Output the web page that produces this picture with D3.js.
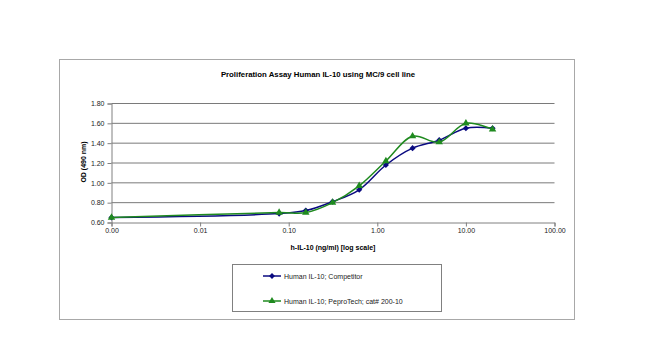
<!DOCTYPE html>
<html>
<head>
<meta charset="utf-8">
<script src="https://cdn.jsdelivr.net/npm/d3@7"></script>
<style>
  body { margin: 0; background: #fff; }
  svg { font-family: "Liberation Sans", Arial, sans-serif; }
</style>
</head>
<body>
<div class="chart"></div>
<script>
// concentrations (ng/ml) and OD readings
const conc = [0.001, 0.078, 0.156, 0.3125, 0.625, 1.25, 2.5, 5, 10, 20];
const competitor = [0.65, 0.69, 0.72, 0.81, 0.93, 1.18, 1.35, 1.43, 1.55, 1.55];
const peprotech = [0.65, 0.70, 0.70, 0.80, 0.97, 1.22, 1.47, 1.41, 1.60, 1.54];
const xTicks = [0.001, 0.01, 0.1, 1, 10, 100];
const yTicks = [0.6, 0.8, 1.0, 1.2, 1.4, 1.6, 1.8];
const seriesNames = ['Human IL-10; Competitor', 'Human IL-10; PeproTech; cat# 200-10'];

const width = 650;
const height = 351;

const svg = d3.select('.chart').append('svg')
    .attr('width', width)
    .attr('height', height);

// outer chart frame
svg.append('rect')
    .attr('x', 59.5).attr('y', 59.5)
    .attr('width', 515).attr('height', 260)
    .attr('fill', 'none')
    .attr('stroke', '#a8a8a8');

const xScale = d3.scaleLog().domain([0.001, 100]).range([111.5, 554.5]);
const yScale = d3.scaleLinear().domain([0.6, 1.8]).range([222.5, 103.5]);

// title
svg.append('text')
    .attr('x', 318).attr('y', 77)
    .attr('text-anchor', 'middle')
    .attr('font-size', '7.8px').attr('font-weight', 'bold')
    .text('Proliferation Assay Human IL-10 using MC/9 cell line');

/* gridlines */
svg.append('g')
    .selectAll('line')
    .data(yTicks.slice(1))
    .enter().append('line')
    .attr('x1', xScale(0.001)).attr('x2', xScale(100))
    .attr('y1', d => yScale(d)).attr('y2', d => yScale(d))
    .attr('stroke', '#7a7a7a')
    .attr('stroke-width', 1);

/* y axis */
const yAxis = d3.axisLeft(yScale).tickValues(yTicks)
    .tickFormat(d3.format('.2f')).tickSize(4).tickPadding(3);
svg.append('g')
    .attr('class', 'y-axis')
    .attr('transform', `translate(${xScale(0.001)},0)`)
    .call(yAxis)
    .call(g => g.select('.domain').attr('stroke', '#808080'))
    .call(g => g.selectAll('.tick line').attr('stroke', '#808080'))
    .call(g => g.selectAll('text').attr('font-size', '7px').attr('fill', '#222')
        .attr('font-family', '"Liberation Sans", Arial, sans-serif'));

/* x axis */
const xAxis = d3.axisBottom(xScale).tickValues(xTicks)
    .tickFormat(d3.format('.2f')).tickSize(4).tickPadding(2);
svg.append('g')
    .attr('class', 'x-axis')
    .attr('transform', `translate(0,${yScale(0.6)})`)
    .call(xAxis)
    .call(g => g.select('.domain').attr('stroke', '#808080'))
    .call(g => g.selectAll('.tick line').attr('stroke', '#808080'))
    .call(g => g.selectAll('text').attr('font-size', '7px').attr('fill', '#222')
        .attr('font-family', '"Liberation Sans", Arial, sans-serif'));

// axis titles
svg.append('text')
    .attr('x', 333).attr('y', 250)
    .attr('text-anchor', 'middle')
    .attr('font-size', '7px').attr('font-weight', 'bold')
    .text('h-IL-10 (ng/ml) [log scale]');
svg.append('text')
    .attr('transform', 'translate(86,162) rotate(-90)')
    .attr('text-anchor', 'middle')
    .attr('font-size', '7px').attr('font-weight', 'bold')
    .text('OD (490 nm)');

/* series */
const series = [
    { name: seriesNames[0], values: competitor, color: '#0a0a80', symbol: d3.symbolDiamond2 },
    { name: seriesNames[1], values: peprotech, color: '#1f8a1f', symbol: d3.symbolTriangle }
];

const line = d3.line()
    .x(d => xScale(d[0]))
    .y(d => yScale(d[1]))
    .curve(d3.curveCatmullRom.alpha(0.5));

series.forEach(s => {
    const pts = conc.map((c, i) => [c, s.values[i]]);
    svg.append('path')
        .datum(pts)
        .attr('fill', 'none')
        .attr('stroke', s.color)
        .attr('stroke-width', 1.5)
        .attr('d', line);
    svg.append('g')
        .selectAll('path')
        .data(pts)
        .enter().append('path')
        .attr('transform', d => `translate(${xScale(d[0])},${yScale(d[1])})`)
        .attr('d', d3.symbol().type(s.symbol).size(24))
        .attr('fill', s.color);
});

/* legend */
const legend = svg.append('g');
legend.append('rect')
    .attr('x', 232.5).attr('y', 264.5)
    .attr('width', 209).attr('height', 47)
    .attr('fill', 'none').attr('stroke', '#808080');
series.forEach((s, i) => {
    const y = 276 + i * 25;
    legend.append('line')
        .attr('x1', 263).attr('x2', 281)
        .attr('y1', y).attr('y2', y)
        .attr('stroke', s.color).attr('stroke-width', 1.5);
    legend.append('path')
        .attr('transform', `translate(272,${y})`)
        .attr('d', d3.symbol().type(s.symbol).size(22))
        .attr('fill', s.color);
    legend.append('text')
        .attr('x', 284).attr('y', y + 2.5)
        .attr('font-size', '7px').attr('fill', '#222')
        .text(s.name);
});
</script>
</body>
</html>
